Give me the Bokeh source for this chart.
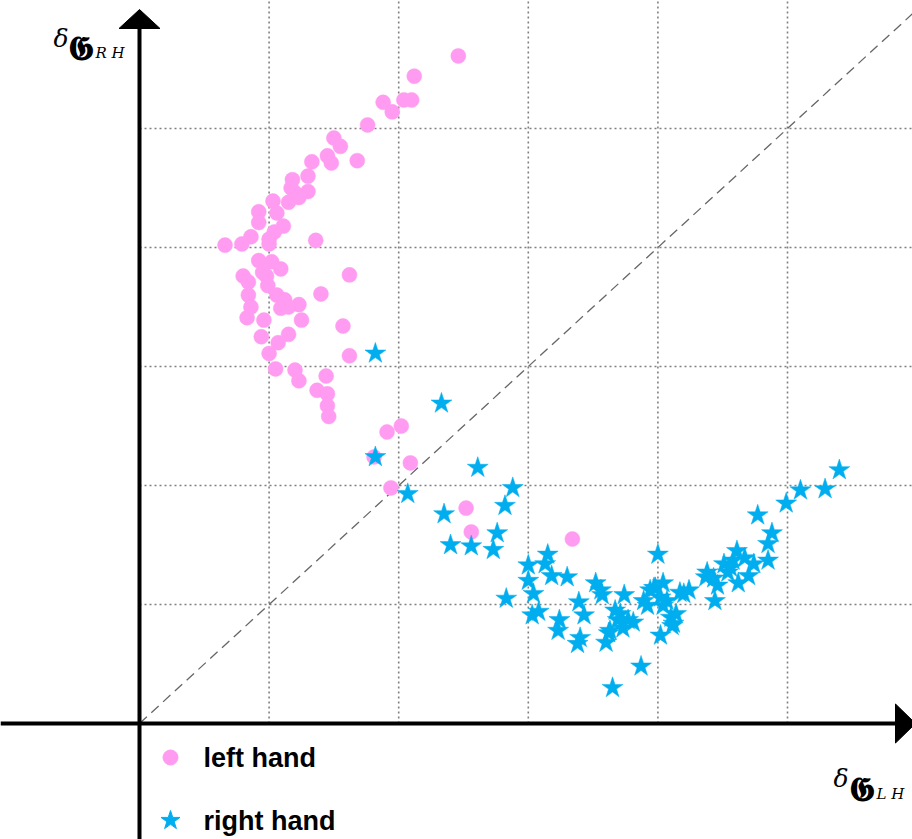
from bokeh.plotting import figure
from bokeh.models import Range1d
from bokeh.core.properties import value
from bokeh.embed import file_html
from bokeh.resources import INLINE

# ---- data (grid units: x step 1 per vertical grid line, y step 1 per horizontal grid line)
left_x = [2.46, 2.12, 1.88, 1.95, 2.04, 2.10, 1.76, 1.50, 1.55, 1.45, 1.48, 1.68, 1.33, 1.30, 1.18,
          1.17, 1.20, 1.30, 1.23, 1.15, 1.03, 1.06, 0.92, 0.92, 1.11, 1.04, 1.00, 1.00, 0.86, 0.79,
          0.66, 1.36, 0.92, 1.02, 1.09, 0.95, 0.98, 0.80, 0.84, 0.99, 1.62, 0.84, 1.06, 1.12, 1.40,
          1.23, 1.09, 1.15, 0.86, 0.83, 0.96, 1.25, 1.57, 0.94, 1.15, 1.07, 1.00, 1.62, 1.05, 1.20,
          1.23, 1.44, 1.37, 1.45, 1.45, 1.46, 2.02, 1.91, 1.81, 2.09, 1.94, 2.52, 2.56, 3.34]
left_y = [5.61, 5.44, 5.22, 5.14, 5.24, 5.24, 5.03, 4.92, 4.85, 4.77, 4.71, 4.73, 4.72, 4.60, 4.57,
          4.50, 4.46, 4.47, 4.42, 4.38, 4.39, 4.29, 4.30, 4.21, 4.18, 4.13, 4.07, 4.03, 4.09, 4.03,
          4.02, 4.06, 3.89, 3.88, 3.82, 3.79, 3.76, 3.76, 3.71, 3.68, 3.77, 3.60, 3.60, 3.56, 3.61,
          3.52, 3.49, 3.50, 3.50, 3.41, 3.39, 3.39, 3.34, 3.25, 3.27, 3.20, 3.11, 3.09, 2.98, 2.97,
          2.88, 2.92, 2.80, 2.77, 2.67, 2.58, 2.50, 2.45, 2.24, 2.19, 1.98, 1.81, 1.61, 1.55]

right_x = [1.82, 2.33, 1.82, 2.61, 2.88, 2.07, 2.82, 2.35, 2.76, 2.40, 2.56, 2.73, 2.83, 3.00, 3.15,
           3.13, 3.18, 3.00, 3.04, 3.03, 3.08, 3.30, 3.24, 3.23, 3.39, 3.43, 3.52, 3.56, 3.57, 3.74,
           3.38, 3.40, 3.60, 3.62, 3.67, 3.71, 3.69, 3.77, 3.81, 3.73, 3.65, 3.87, 4.00, 3.89, 3.94,
           3.98, 4.04, 4.07, 4.04, 4.17, 4.24, 4.10, 4.12, 4.02, 4.38, 4.43, 4.46, 4.44, 4.51, 4.54,
           5.40, 5.10, 5.29, 4.99, 4.77, 4.88, 4.85, 4.85, 4.61, 4.67, 4.74, 4.56, 4.37, 4.62, 4.70,
           4.14, 4.11, 3.92, 3.63, 3.97, 4.02, 4.20, 4.58]
right_y = [3.11, 2.69, 2.24, 2.15, 1.98, 1.93, 1.83, 1.76, 1.60, 1.50, 1.49, 1.46, 1.05, 1.33, 1.42,
           1.34, 1.24, 1.20, 1.09, 0.91, 0.94, 1.23, 0.87, 0.78, 1.02, 0.91, 1.18, 1.12, 1.08, 1.08,
           0.67, 0.72, 0.68, 0.76, 0.95, 0.92, 0.87, 0.87, 0.85, 0.80, 0.30, 0.48, 1.42, 1.03, 1.12,
           1.14, 1.18, 1.03, 0.99, 1.10, 1.12, 0.89, 0.84, 0.74, 1.27, 1.22, 1.16, 1.03, 1.34, 1.27,
           2.13, 1.96, 1.97, 1.85, 1.75, 1.60, 1.51, 1.37, 1.45, 1.39, 1.34, 1.31, 1.23, 1.18, 1.24,
           0.92, 0.82, 0.99, 0.78, 1.14, 1.06, 1.09, 1.37]

grid_ticks = [1, 2, 3, 4, 5]
series_labels = ["left hand", "right hand"]

PINK = "#FF9BF0"
BLUE = "#00AEEF"

# ---- layout constants
W, H = 912, 839
sx, sy = 129.6, 119.0          # pixels per grid unit
ox, oy = 139.0, 723.0          # origin position in pixels
X0, X1 = -ox / sx, (W - ox) / sx
Y0, Y1 = (oy - H) / sy, oy / sy

def px(dx):
    return dx / sx

def py(dy):
    return dy / sy

p = figure(width=W, height=H, x_range=Range1d(X0, X1), y_range=Range1d(Y0, Y1),
           output_backend="svg", toolbar_location=None, min_border=0, title=None)
p.axis.visible = False
p.grid.visible = False
p.outline_line_color = None
p.background_fill_color = "white"
p.border_fill_color = "white"

# dotted grid in the positive quadrant
p.segment(x0=grid_ticks, y0=[0] * len(grid_ticks), x1=grid_ticks, y1=[Y1] * len(grid_ticks),
          line_color="#808080", line_width=1.6, line_dash="2 3")
p.segment(x0=[0] * len(grid_ticks), y0=grid_ticks, x1=[X1] * len(grid_ticks), y1=grid_ticks,
          line_color="#808080", line_width=1.6, line_dash="2 3")

# diagonal y = x
p.line([0, X1], [0, X1], line_color="#666666", line_width=1.3, line_dash="10 6")

# axes with arrow heads
tip_y = Y1 - py(9)
base_y = tip_y - py(19)
p.segment(x0=[0], y0=[Y0], x1=[0], y1=[base_y], line_color="black", line_width=4)
p.patch([-px(20.5), px(20.5), 0], [base_y, base_y, tip_y], color="black")
tip_x = X1 + px(3)
base_x = tip_x - px(20)
p.segment(x0=[X0], y0=[0], x1=[base_x], y1=[0], line_color="black", line_width=4)
p.patch([base_x, base_x, tip_x], [py(19.5), -py(19.5), 0], color="black")

# data points
p.scatter(left_x, left_y, marker="circle", size=15, fill_color=PINK, line_color=PINK, line_width=0.5)
p.scatter(right_x, right_y, marker="star", size=22, fill_color=BLUE, line_color=BLUE, line_width=0.5)

# axis labels
def label(x, y, t, font, size, style="normal"):
    p.text([x], [y], [t], text_font=value(font), text_font_size=size, text_font_style=style,
           text_baseline="alphabetic", text_align="left", text_color="black")

# top label  delta_{G_{RH}}
label(px(53 - ox), py(oy - 38), "\u03b4", "DejaVu Serif", "25px", "italic")
label(px(67 - ox), py(oy - 47), "\U0001D572", "DejaVu Serif", "34px", "bold")
label(px(95 - ox), py(oy - 52), "R H", "DejaVu Serif", "15px", "italic")
# bottom label delta_{G_{LH}}
label(px(833 - ox), py(oy - 778), "\u03b4", "DejaVu Serif", "25px", "italic")
label(px(848 - ox), py(oy - 788), "\U0001D572", "DejaVu Serif", "34px", "bold")
label(px(876 - ox), py(oy - 793), "L H", "DejaVu Serif", "15px", "italic")

# legend
leg_x = px(170 - ox)
leg_y = [py(oy - 757), py(oy - 820)]
p.scatter([leg_x], [leg_y[0]], marker="circle", size=15, fill_color=PINK, line_color=PINK)
p.scatter([leg_x], [leg_y[1]], marker="star", size=20, fill_color=BLUE, line_color=BLUE)
p.text([px(203 - ox)] * 2, leg_y, series_labels, text_font=value("Liberation Sans"),
       text_font_size="27px", text_font_style="bold", text_baseline="middle", text_color="black")

open("out.html", "w").write(file_html(p, INLINE))
